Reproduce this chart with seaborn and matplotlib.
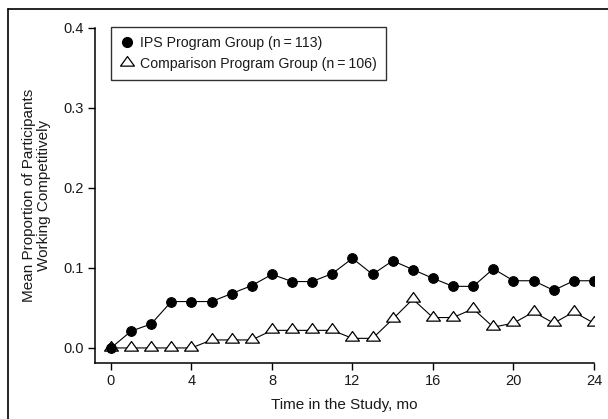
import matplotlib
matplotlib.use('Agg')
import matplotlib.pyplot as plt
from matplotlib.lines import Line2D
from matplotlib.path import Path
import seaborn as sns
import pandas as pd

# data
months = list(range(25))
ips_group = [0.000, 0.021, 0.030, 0.058, 0.058, 0.058, 0.068, 0.078, 0.092, 0.083,
             0.083, 0.093, 0.112, 0.092, 0.109, 0.098, 0.087, 0.077, 0.077, 0.099,
             0.084, 0.084, 0.072, 0.084, 0.084]
comparison_group = [0.000, 0.000, 0.000, 0.000, 0.000, 0.010, 0.010, 0.010, 0.022, 0.022,
                    0.022, 0.022, 0.012, 0.012, 0.036, 0.061, 0.038, 0.038, 0.049, 0.026,
                    0.031, 0.045, 0.031, 0.045, 0.031]
labels = ['IPS Program Group (n\u2009=\u2009113)', 'Comparison Program Group (n\u2009=\u2009106)']
x_ticks = [0, 4, 8, 12, 16, 20, 24]
y_ticks = [0.0, 0.1, 0.2, 0.3, 0.4]

df = pd.DataFrame({'month': months, 'ips': ips_group, 'comp': comparison_group})

sns.set_style('ticks')
plt.rcParams['font.family'] = ['Liberation Sans', 'DejaVu Sans']

tri = Path([(-1, -0.38), (1, -0.38), (0, 1.0), (-1, -0.38)],
           [Path.MOVETO, Path.LINETO, Path.LINETO, Path.CLOSEPOLY])

fig = plt.figure(figsize=(6.08, 4.19), dpi=100)
ax = fig.add_axes([0.1562, 0.1337, 0.8207, 0.7995])

sns.lineplot(data=df, x='month', y='comp', ax=ax, color='black', lw=0.8,
             marker=tri, markersize=10, markerfacecolor='white',
             markeredgecolor='black', markeredgewidth=0.9)
sns.lineplot(data=df, x='month', y='ips', ax=ax, color='black', lw=0.8,
             marker='o', markersize=7, markerfacecolor='black',
             markeredgecolor='black')

ax.set_xlim(-0.795, 24)
ax.set_ylim(-0.0188, 0.4)
ax.set_xticks(x_ticks)
ax.set_yticks(y_ticks)
ax.set_yticklabels(['%.1f' % v for v in y_ticks])
ax.tick_params(labelsize=10.5, width=1, length=5, color='black', labelcolor='#1a1a1a', pad=3)
for s in ['top', 'right']:
    ax.spines[s].set_visible(False)
for s in ['left', 'bottom']:
    ax.spines[s].set_linewidth(1.1)
    ax.spines[s].set_color('black')

ax.set_xlabel('Time in the Study, mo', fontsize=11, color='#1a1a1a', labelpad=7)
ax.set_ylabel('Mean Proportion of Participants\nWorking Competitively', fontsize=11,
              color='#1a1a1a', labelpad=9, linespacing=1.1)

handles = [Line2D([], [], ls='none', marker='o', markersize=7, color='black'),
           Line2D([], [], ls='none', marker=tri, markersize=10, markerfacecolor='white',
                  markeredgecolor='black', markeredgewidth=0.9)]
leg = ax.legend(handles, labels, loc='upper left', bbox_to_anchor=(0.032, 1.003),
                borderaxespad=0, frameon=True, fancybox=False, fontsize=10.2,
                handlelength=1.0, handletextpad=0.4, borderpad=0.65, labelspacing=0.45)
leg.get_frame().set_edgecolor('black')
leg.get_frame().set_linewidth(1.0)
for t in leg.get_texts():
    t.set_color('#1a1a1a')

# outer frame (top and left edges)
fig.add_artist(Line2D([8 / 608, 1], [1 - 9 / 419, 1 - 9 / 419], color='black', lw=1.2,
                      transform=fig.transFigure))
fig.add_artist(Line2D([8 / 608, 8 / 608], [0, 1 - 9 / 419], color='black', lw=1.2,
                      transform=fig.transFigure))

fig.savefig('out.png', dpi=100)
